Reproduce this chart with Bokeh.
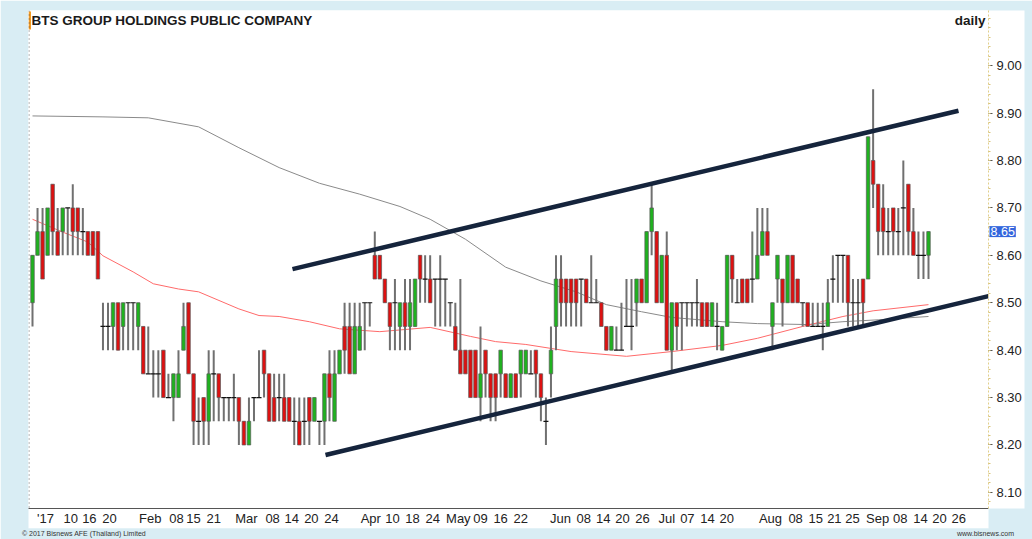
from bokeh.plotting import figure
from bokeh.models import (ColumnDataSource, Range1d, FixedTicker, Label,
                          NumeralTickFormatter, CustomJSTickFormatter, Span, LinearAxis)
from bokeh.embed import file_html
from bokeh.resources import INLINE

# ---------------- data ----------------
opens = [8.50, 8.60, 8.65, 8.60, 8.75, 8.65, 8.65, 8.70, 8.70, 8.70,
         8.65, 8.65, 8.65, 8.65, 8.45, 8.45, 8.45, 8.50, 8.45, 8.50,
         8.50, 8.45, 8.45, 8.35, 8.35, 8.35, 8.40, 8.30, 8.30, 8.30,
         8.40, 8.50, 8.35, 8.25, 8.30, 8.25, 8.35, 8.35, 8.30, 8.30,
         8.30, 8.30, 8.25, 8.20, 8.30, 8.30, 8.40, 8.35, 8.30, 8.30,
         8.30, 8.30, 8.25, 8.25, 8.25, 8.30, 8.25, 8.25, 8.25, 8.35,
         8.25, 8.35, 8.45, 8.45, 8.35, 8.40, 8.50, 8.50, 8.60, 8.60,
         8.55, 8.50, 8.50, 8.45, 8.50, 8.45, 8.45, 8.60, 8.55, 8.55,
         8.55, 8.55, 8.55, 8.50, 8.45, 8.40, 8.40, 8.40, 8.40, 8.30,
         8.40, 8.35, 8.35, 8.35, 8.35, 8.30, 8.35, 8.35, 8.35, 8.35,
         8.40, 8.35, 8.25, 8.35, 8.45, 8.55, 8.55, 8.55, 8.55, 8.55,
         8.55, 8.50, 8.50, 8.50, 8.45, 8.40, 8.40, 8.40, 8.45, 8.45,
         8.50, 8.55, 8.50, 8.65, 8.65, 8.50, 8.60, 8.40, 8.50, 8.50,
         8.50, 8.50, 8.50, 8.50, 8.50, 8.45, 8.45, 8.40, 8.45, 8.60,
         8.50, 8.55, 8.55, 8.55, 8.55, 8.60, 8.65, 8.45, 8.55, 8.55,
         8.50, 8.60, 8.55, 8.50, 8.50, 8.45, 8.45, 8.45, 8.45, 8.55,
         8.60, 8.60, 8.60, 8.50, 8.50, 8.55, 8.55, 8.80, 8.75, 8.70,
         8.65, 8.70, 8.65, 8.70, 8.75, 8.65, 8.60, 8.60, 8.60]
highs = [8.60, 8.70, 8.70, 8.70, 8.75, 8.70, 8.70, 8.70, 8.75, 8.70,
         8.70, 8.65, 8.65, 8.65, 8.50, 8.50, 8.50, 8.50, 8.50, 8.50,
         8.50, 8.50, 8.45, 8.45, 8.40, 8.40, 8.40, 8.35, 8.35, 8.40,
         8.50, 8.50, 8.35, 8.30, 8.30, 8.40, 8.40, 8.35, 8.30, 8.30,
         8.35, 8.30, 8.25, 8.30, 8.30, 8.40, 8.40, 8.35, 8.35, 8.35,
         8.35, 8.30, 8.30, 8.30, 8.30, 8.30, 8.30, 8.25, 8.35, 8.40,
         8.40, 8.40, 8.50, 8.50, 8.50, 8.50, 8.50, 8.50, 8.65, 8.60,
         8.55, 8.50, 8.55, 8.50, 8.55, 8.55, 8.55, 8.60, 8.60, 8.60,
         8.55, 8.60, 8.55, 8.50, 8.50, 8.55, 8.40, 8.40, 8.40, 8.45,
         8.40, 8.35, 8.35, 8.40, 8.35, 8.35, 8.35, 8.40, 8.40, 8.40,
         8.40, 8.35, 8.30, 8.45, 8.60, 8.60, 8.55, 8.55, 8.55, 8.55,
         8.55, 8.60, 8.55, 8.50, 8.45, 8.45, 8.45, 8.50, 8.55, 8.55,
         8.55, 8.55, 8.65, 8.75, 8.65, 8.60, 8.65, 8.50, 8.50, 8.50,
         8.50, 8.50, 8.55, 8.50, 8.50, 8.50, 8.50, 8.45, 8.60, 8.60,
         8.55, 8.55, 8.55, 8.65, 8.70, 8.70, 8.70, 8.50, 8.60, 8.55,
         8.60, 8.60, 8.55, 8.50, 8.50, 8.50, 8.50, 8.50, 8.55, 8.60,
         8.60, 8.60, 8.60, 8.55, 8.55, 8.55, 8.85, 8.95, 8.75, 8.75,
         8.70, 8.70, 8.70, 8.80, 8.75, 8.70, 8.65, 8.65, 8.65]
lows = [8.45, 8.60, 8.55, 8.60, 8.60, 8.60, 8.60, 8.60, 8.60, 8.60,
        8.60, 8.60, 8.60, 8.55, 8.40, 8.40, 8.40, 8.40, 8.40, 8.40,
        8.40, 8.40, 8.35, 8.35, 8.30, 8.30, 8.30, 8.30, 8.25, 8.30,
        8.40, 8.35, 8.20, 8.20, 8.20, 8.20, 8.25, 8.25, 8.25, 8.25,
        8.25, 8.20, 8.20, 8.20, 8.25, 8.30, 8.30, 8.25, 8.25, 8.25,
        8.25, 8.25, 8.20, 8.20, 8.20, 8.20, 8.25, 8.20, 8.20, 8.25,
        8.25, 8.35, 8.35, 8.35, 8.35, 8.40, 8.40, 8.45, 8.55, 8.55,
        8.50, 8.40, 8.40, 8.40, 8.40, 8.40, 8.45, 8.50, 8.50, 8.50,
        8.45, 8.45, 8.45, 8.45, 8.40, 8.35, 8.35, 8.30, 8.30, 8.25,
        8.30, 8.25, 8.25, 8.30, 8.30, 8.30, 8.30, 8.30, 8.35, 8.35,
        8.30, 8.25, 8.20, 8.30, 8.40, 8.45, 8.45, 8.45, 8.45, 8.45,
        8.50, 8.50, 8.50, 8.45, 8.40, 8.40, 8.40, 8.40, 8.45, 8.40,
        8.45, 8.50, 8.50, 8.60, 8.50, 8.50, 8.40, 8.35, 8.40, 8.40,
        8.45, 8.45, 8.45, 8.45, 8.45, 8.45, 8.40, 8.40, 8.45, 8.50,
        8.50, 8.50, 8.50, 8.50, 8.55, 8.60, 8.60, 8.40, 8.50, 8.45,
        8.50, 8.50, 8.50, 8.45, 8.45, 8.45, 8.45, 8.40, 8.45, 8.50,
        8.50, 8.50, 8.45, 8.45, 8.45, 8.45, 8.55, 8.70, 8.60, 8.60,
        8.60, 8.60, 8.60, 8.60, 8.60, 8.60, 8.55, 8.55, 8.55]
closes = [8.60, 8.65, 8.55, 8.70, 8.65, 8.60, 8.70, 8.70, 8.65, 8.65,
          8.65, 8.60, 8.60, 8.55, 8.45, 8.45, 8.50, 8.40, 8.50, 8.50,
          8.50, 8.50, 8.35, 8.35, 8.35, 8.35, 8.30, 8.30, 8.35, 8.35,
          8.45, 8.35, 8.25, 8.25, 8.25, 8.35, 8.35, 8.30, 8.30, 8.30,
          8.30, 8.25, 8.20, 8.25, 8.30, 8.30, 8.35, 8.25, 8.25, 8.30,
          8.25, 8.25, 8.25, 8.20, 8.25, 8.25, 8.30, 8.25, 8.35, 8.30,
          8.35, 8.40, 8.40, 8.35, 8.45, 8.45, 8.50, 8.50, 8.55, 8.55,
          8.50, 8.45, 8.50, 8.50, 8.45, 8.50, 8.55, 8.55, 8.55, 8.50,
          8.55, 8.55, 8.55, 8.50, 8.40, 8.35, 8.35, 8.30, 8.30, 8.35,
          8.35, 8.30, 8.30, 8.40, 8.30, 8.35, 8.30, 8.40, 8.40, 8.35,
          8.35, 8.30, 8.25, 8.40, 8.55, 8.50, 8.50, 8.50, 8.50, 8.55,
          8.50, 8.50, 8.50, 8.45, 8.40, 8.45, 8.40, 8.40, 8.45, 8.45,
          8.55, 8.50, 8.65, 8.70, 8.50, 8.60, 8.40, 8.50, 8.45, 8.50,
          8.50, 8.50, 8.50, 8.45, 8.45, 8.50, 8.45, 8.45, 8.60, 8.55,
          8.50, 8.50, 8.50, 8.55, 8.60, 8.65, 8.60, 8.50, 8.60, 8.50,
          8.60, 8.50, 8.50, 8.50, 8.45, 8.45, 8.45, 8.45, 8.50, 8.55,
          8.60, 8.60, 8.50, 8.50, 8.50, 8.50, 8.85, 8.75, 8.65, 8.65,
          8.65, 8.65, 8.65, 8.70, 8.65, 8.60, 8.60, 8.60, 8.65]

# moving averages, sampled at bar indices
ma_slow_idx = [0, 14, 23, 33, 41, 49, 57, 65, 73, 79, 86, 94, 101, 108, 114, 121, 127, 137, 144, 154, 161, 168, 178]
ma_slow_val = [8.894, 8.892, 8.890, 8.871, 8.827, 8.785, 8.752, 8.729, 8.703, 8.676, 8.634, 8.575,
               8.546, 8.523, 8.496, 8.481, 8.469, 8.460, 8.456, 8.454, 8.460, 8.464, 8.471]
ma_fast_idx = [0, 6, 11, 14, 20, 24, 29, 33, 41, 45, 49, 55, 61, 69, 79, 87, 92, 98, 107, 118,
               127, 137, 144, 153, 161, 167, 178]
ma_fast_val = [8.676, 8.649, 8.628, 8.599, 8.565, 8.540, 8.529, 8.523, 8.487, 8.473, 8.471, 8.460,
               8.445, 8.439, 8.448, 8.429, 8.418, 8.412, 8.397, 8.387, 8.397, 8.410, 8.425, 8.450,
               8.471, 8.483, 8.496]

# hand-drawn channel lines (bar index, price)
upper_idx = [51.65, 183.96]
upper_val = [8.571, 8.905]
lower_idx = [58.21, 190.32]
lower_val = [8.179, 8.515]

# x-axis tick labels (positions in bar index units)
tick_pos = [2.6, 7.6, 11.3, 15.3, 23.4, 28.6, 32, 36, 42.5, 47.7, 51.5, 55.4, 59.4,
            67.2, 71.5, 75.5, 79.5, 84.6, 89, 93, 97, 104.9, 109.5, 113.4, 117.2, 121.2,
            126, 130.1, 134.1, 137.9, 146.6, 151.6, 155.6, 159.3, 162.9, 167.9, 172.4,
            176.4, 180.2, 184]
tick_labels = ["'17", "10", "16", "20", "Feb", "08", "15", "21", "Mar", "08", "14", "20", "24",
               "Apr", "10", "18", "24", "May", "09", "16", "22", "Jun", "08", "14", "20", "26",
               "Jul", "07", "14", "20", "Aug", "08", "15", "21", "25", "Sep", "08", "14", "20", "26"]
price_ticks = [8.1, 8.2, 8.3, 8.4, 8.5, 8.6, 8.7, 8.8, 8.9, 9.0]
last_price = 8.65
footer_texts = ["\u00a9 2017 Bisnews AFE (Thailand) Limited", "www.bisnews.com"]

# ---------------- layout helpers (picture pixel -> data) ----------------
PX_PER_BAR = 5.0337
X0_PX = 32.0
def px_i(px):
    return (px - X0_PX) / PX_PER_BAR
def px_v(py):
    return 9.00 - (py - 65.5) / 477.0

GREEN = "#1fb21f"
RED = "#dd1111"
LIGHT_BLUE = "#d9edf4"
FONT = "Liberation Sans"
FRAME_L, FRAME_R, FRAME_T, FRAME_B = 28, 988, 10, 511

n = len(closes)
idx = list(range(n))

body = dict(x=[], top=[], bottom=[], color=[])
doji = dict(x=[], y=[])
for i, o, c in zip(idx, opens, closes):
    if c > o:
        body["x"].append(i); body["top"].append(c); body["bottom"].append(o); body["color"].append(GREEN)
    elif c < o:
        body["x"].append(i); body["top"].append(o); body["bottom"].append(c); body["color"].append(RED)
    else:
        doji["x"].append(i); doji["y"].append(c)

p = figure(width=1032, height=539, output_backend="svg", toolbar_location=None, title=None,
           x_range=Range1d(px_i(FRAME_L), px_i(FRAME_R)),
           y_range=Range1d(px_v(FRAME_B), px_v(FRAME_T)),
           y_axis_location="right", min_border_left=FRAME_L, min_border_right=1032 - FRAME_R,
           min_border_top=FRAME_T, min_border_bottom=539 - FRAME_B)
p.background_fill_color = "white"
p.outline_line_color = None
p.grid.visible = False

axis_bg = "background_fill_color" in LinearAxis.properties()
p.border_fill_color = LIGHT_BLUE if axis_bg else "white"

# moving averages
p.line(ma_slow_idx, ma_slow_val, line_color="#8a8a8a", line_width=1)
p.line(ma_fast_idx, ma_fast_val, line_color="#ff6a6a", line_width=1)

# candles
p.segment(x0=idx, y0=lows, x1=idx, y1=highs, line_color="#707070", line_width=2)
p.vbar(x="x", top="top", bottom="bottom", width=0.7, fill_color="color",
       line_color="#5a5a5a", line_width=0.7, source=ColumnDataSource(body))
p.scatter(x="x", y="y", marker="dash", size=5, line_color="#111111", line_width=1.2,
          source=ColumnDataSource(doji))

# channel lines
p.line(upper_idx, upper_val, line_color="#15243c", line_width=4.5)
p.line(lower_idx, lower_val, line_color="#15243c", line_width=4.5)

# left dotted edge and orange marker
p.add_layout(Span(location=px_i(FRAME_L + 0.5), dimension="height", line_color="#444444",
                  line_dash="1 3", line_width=1))
p.quad(left=[px_i(FRAME_L)], right=[px_i(FRAME_L + 2.5)], top=[px_v(11)], bottom=[px_v(29)],
       fill_color="#f39a22", line_color=None)

# right price axis
ya = p.yaxis[0]
ya.ticker = FixedTicker(ticks=price_ticks,
                        minor_ticks=[round(8.06 + 0.02 * k, 2) for k in range(54)])
ya.formatter = NumeralTickFormatter(format="0.00")
ya.major_label_text_font = FONT
ya.major_label_text_font_size = "13px"
ya.major_label_text_color = "#222222"
ya.axis_line_color = "#e2cf8a"
ya.axis_line_dash = "2 2"
ya.major_tick_in = 0
ya.major_tick_out = 4
ya.major_tick_line_color = "#555555"
ya.minor_tick_in = 0
ya.minor_tick_out = 2
ya.minor_tick_line_color = "#d9c47c"
ya.major_label_standoff = 4

# bottom date axis
xa = p.xaxis[0]
xa.ticker = FixedTicker(ticks=tick_pos, minor_ticks=[])
xa.formatter = CustomJSTickFormatter(args=dict(pos=tick_pos, labs=tick_labels), code="""
    for (let k = 0; k < pos.length; k++) { if (Math.abs(pos[k] - tick) < 1e-6) return labs[k]; }
    return "";
""")
xa.major_label_text_font = FONT
xa.major_label_text_font_size = "13px"
xa.major_label_text_color = "#222222"
xa.axis_line_color = "#555555"
xa.major_tick_in = 0
xa.major_tick_out = 0
xa.minor_tick_out = 0
xa.major_label_standoff = 2

# footer line as a second, unlined axis below the date axis
foot_pos = [round(px_i(83.5), 3), round(px_i(985), 3)]
fa = LinearAxis(ticker=FixedTicker(ticks=foot_pos, minor_ticks=[]),
                formatter=CustomJSTickFormatter(args=dict(pos=foot_pos, labs=footer_texts), code="""
    for (let k = 0; k < pos.length; k++) { if (Math.abs(pos[k] - tick) < 1e-6) return labs[k]; }
    return "";
"""))
fa.axis_line_color = None
fa.major_tick_line_color = None
fa.minor_tick_line_color = None
fa.major_tick_out = 0
fa.major_tick_in = 0
fa.major_label_standoff = 1
fa.major_label_text_font = FONT
fa.major_label_text_font_size = "7px"
fa.major_label_text_color = "#333333"
p.add_layout(fa, "below")

if axis_bg:
    ya.background_fill_color = "white"
    xa.background_fill_color = "white"
    fa.background_fill_color = LIGHT_BLUE

# titles
p.add_layout(Label(x=px_i(31), y=px_v(20), text="BTS GROUP HOLDINGS PUBLIC COMPANY",
                   text_font=FONT, text_font_style="bold", text_font_size="13.5px",
                   text_color="#1a1a1a", text_baseline="middle"))
p.add_layout(Label(x=px_i(985), y=px_v(20), text="daily", text_align="right",
                   text_font=FONT, text_font_style="bold", text_font_size="13.5px",
                   text_color="#1a1a1a", text_baseline="middle"))

# last price tag (kept in the narrow left side panel so it is not clipped to the frame;
# its position is still given in data units, so it lands on the price axis)
p.add_layout(Label(x=px_i(989), y=last_price, text="%.2f" % last_price, text_baseline="middle",
                   text_font=FONT, text_font_size="12.5px", text_color="white",
                   background_fill_color="#3366dd", padding=1), "left")

open("out.html", "w").write(file_html(p, INLINE))
